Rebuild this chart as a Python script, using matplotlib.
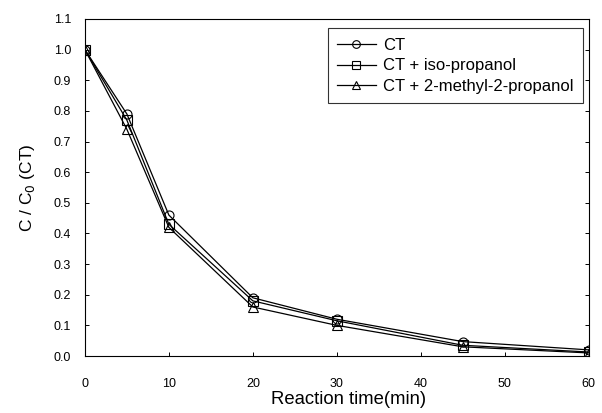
import matplotlib
matplotlib.use("Agg")
import matplotlib.pyplot as plt
from matplotlib.ticker import MultipleLocator, FormatStrFormatter

time_min = [0, 5, 10, 20, 30, 45, 60]
ct = [1.0, 0.79, 0.46, 0.19, 0.12, 0.047, 0.02]
ct_iso = [1.0, 0.77, 0.43, 0.18, 0.115, 0.035, 0.013]
ct_2m2p = [1.0, 0.74, 0.42, 0.16, 0.10, 0.03, 0.01]
labels = ["CT", "CT + iso-propanol", "CT + 2-methyl-2-propanol"]

plt.rcParams['font.family'] = ['Liberation Sans', 'DejaVu Sans']

fig = plt.figure(figsize=(6.02, 4.13), dpi=100)
ax = fig.add_axes([0.141, 0.138, 0.837, 0.816])

for y, m, lab in zip([ct, ct_iso, ct_2m2p], ['o', 's', '^'], labels):
    ax.plot(time_min, y, color='black', lw=0.9, marker=m, markersize=6.5,
            markerfacecolor='none', markeredgecolor='black', markeredgewidth=0.8, label=lab)

ax.set_xlim(0, 60)
ax.set_ylim(0, 1.1)
ax.xaxis.set_major_locator(MultipleLocator(10))
ax.yaxis.set_major_locator(MultipleLocator(0.1))
ax.yaxis.set_major_formatter(FormatStrFormatter('%.1f'))
ax.tick_params(direction='in', top=False, right=True, labelsize=9, length=3, width=0.7)
ax.tick_params(axis='y', pad=10)
ax.tick_params(axis='x', pad=16)
for s in ax.spines.values():
    s.set_linewidth(0.8)

ax.set_xlabel("Reaction time(min)", fontsize=13.3)
ax.xaxis.set_label_coords(0.524, -0.105)
ax.set_ylabel("C / C$_0$ (CT)", fontsize=12.5, labelpad=12)

leg = ax.legend(loc='upper right', bbox_to_anchor=(0.988, 0.972), fontsize=12,
                frameon=True, fancybox=False, edgecolor='black', handlelength=2.3,
                handletextpad=0.45, borderpad=0.55, labelspacing=0.35, markerscale=0.85,
                borderaxespad=0)
leg.get_frame().set_linewidth(0.8)

fig.savefig("out.png", dpi=100)
